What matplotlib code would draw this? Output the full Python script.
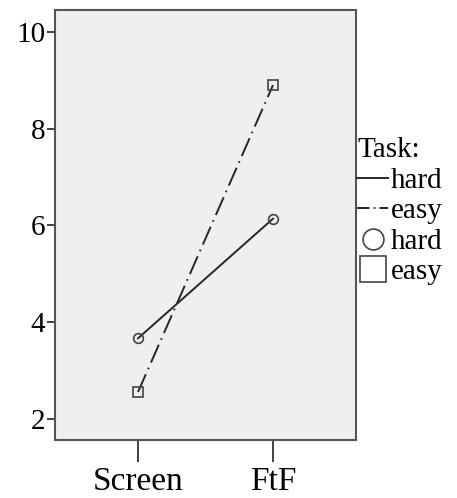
import matplotlib
matplotlib.use("Agg")
import matplotlib.pyplot as plt
from matplotlib.lines import Line2D

# Data
conditions = ["Screen", "FtF"]
hard_means = [3.67, 6.14]
easy_means = [2.56, 8.90]
y_ticks = [2, 4, 6, 8, 10]

plt.rcParams["font.family"] = ["Liberation Serif", "DejaVu Serif"]
plt.rcParams["lines.scale_dashes"] = False

fig = plt.figure(figsize=(4.57, 4.98), dpi=100)
ax = fig.add_axes((55 / 457, 1 - 440 / 498, (356 - 55) / 457, (440 - 10) / 498))

ax.set_facecolor("#efefef")
line_col = "#262626"
dashdot = (0, (14, 4, 1.2, 4))

x = list(range(len(conditions)))
ax.plot(x, hard_means, color=line_col, lw=1.4, marker="o", ms=7,
        mfc="none", mec="#444444", mew=1.2)
ax.plot(x, easy_means, color=line_col, lw=1.4, ls=dashdot, marker="s", ms=7,
        mfc="none", mec="#444444", mew=1.2)

ax.set_xlim(-0.615, 1.615)
ax.set_ylim(1.57, 10.45)
ax.set_xticks(x)
ax.set_xticklabels(conditions, fontsize=24)
ax.set_yticks(y_ticks)
ax.set_yticklabels([str(t) for t in y_ticks], fontsize=21)
ax.tick_params(axis="x", length=16, width=1.3, color="#333333", pad=3)
ax.tick_params(axis="y", length=6, width=1.3, color="#333333", pad=1)

for sp in ax.spines.values():
    sp.set_color("#555555")
    sp.set_linewidth(1.5)

handles = [
    Line2D([], [], color=line_col, lw=1.4),
    Line2D([], [], color=line_col, lw=1.4, ls=(0, (9, 3, 1.2, 3))),
    Line2D([], [], ls="none", marker="o", ms=15, mfc="none", mec="#444444", mew=1.2),
    Line2D([], [], ls="none", marker="s", ms=19, mfc="none", mec="#444444", mew=1.2),
]
labels = ["hard", "easy", "hard", "easy"]
leg = ax.legend(handles, labels, title="Task:", loc="upper left",
                bbox_to_anchor=(1.0, 0.707), frameon=False, fontsize=21,
                title_fontsize=21, handlelength=1.05, handletextpad=0.1,
                labelspacing=0.14, borderaxespad=0.05, borderpad=0.0)
leg._legend_box.align = "left"

fig.savefig("out.png", dpi=100, facecolor="white")
